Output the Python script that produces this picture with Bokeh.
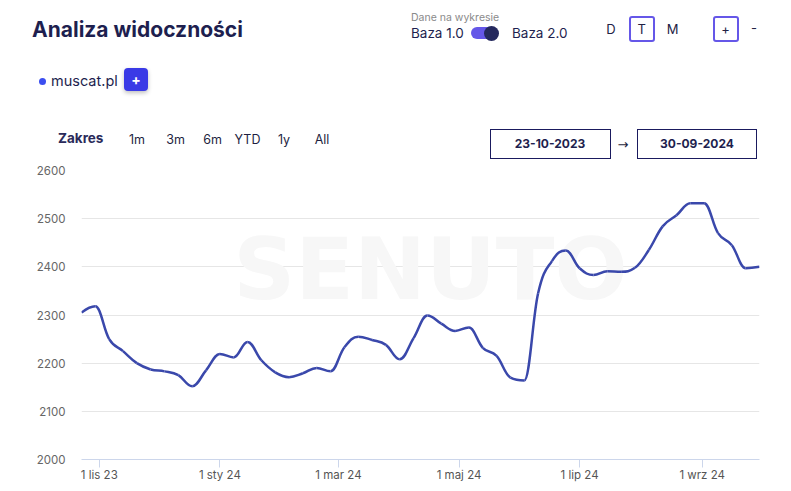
import numpy as np
import pandas as pd
from bokeh.plotting import figure
from bokeh.layouts import column
from bokeh.models import Label, FixedTicker, Range1d, Div
from bokeh.embed import file_html
from bokeh.resources import INLINE

# ---------------- data ----------------
title_text = "Analiza widoczności"
series_name = "muscat.pl"
week_dates = pd.date_range("2023-10-23", "2024-09-30", freq="7D")
visibility = [2305, 2318, 2250, 2225, 2200, 2187, 2183, 2175, 2152, 2185,
              2219, 2212, 2244, 2206, 2181, 2171, 2179, 2190, 2183, 2233,
              2255, 2248, 2238, 2208, 2252, 2299, 2282, 2267, 2274, 2232,
              2215, 2170, 2164, 2345, 2412, 2434, 2397, 2383, 2391, 2390,
              2398, 2435, 2484, 2507, 2532, 2532, 2470, 2445, 2397, 2400]
y_ticks = [2000, 2100, 2200, 2300, 2400, 2500, 2600]
x_tick_dates = ["2023-11-01", "2024-01-01", "2024-03-01", "2024-05-01", "2024-07-01", "2024-09-01"]
x_tick_labels = ["1 lis 23", "1 sty 24", "1 mar 24", "1 maj 24", "1 lip 24", "1 wrz 24"]
range_buttons = ["1m", "3m", "6m", "YTD", "1y", "All"]
interval_buttons = ["D", "T", "M"]
date_from = "23-10-2023"
date_to = "30-09-2024"

FONT = "Inter"
NAVY = "#1e1f4f"
LINE = "#3a48ab"
PURPLE = "#6557e8"

xs = (week_dates.astype("int64") // 10**6).astype(float).to_numpy()
ys = np.array(visibility, dtype=float)

# spline control points (rendering of a smooth line through the data points)
n = len(xs)
lx, ly, rx, ry = xs.copy(), ys.copy(), xs.copy(), ys.copy()
s, d = 1.5, 2.5
for i in range(1, n - 1):
    a_x = (s * xs[i] + xs[i - 1]) / d
    a_y = (s * ys[i] + ys[i - 1]) / d
    b_x = (s * xs[i] + xs[i + 1]) / d
    b_y = (s * ys[i] + ys[i + 1]) / d
    corr = ((b_y - a_y) * (b_x - xs[i])) / (b_x - a_x) + ys[i] - b_y
    a_y += corr
    b_y += corr
    if a_y > max(ys[i - 1], ys[i]):
        a_y = max(ys[i - 1], ys[i]); b_y = 2 * ys[i] - a_y
    elif a_y < min(ys[i - 1], ys[i]):
        a_y = min(ys[i - 1], ys[i]); b_y = 2 * ys[i] - a_y
    if b_y > max(ys[i + 1], ys[i]):
        b_y = max(ys[i + 1], ys[i]); a_y = 2 * ys[i] - b_y
    elif b_y < min(ys[i + 1], ys[i]):
        b_y = min(ys[i + 1], ys[i]); a_y = 2 * ys[i] - b_y
    lx[i], ly[i], rx[i], ry[i] = a_x, a_y, b_x, b_y

# ---------------- header (HTML) ----------------
HH = 160
parts = []


def txt(x, yc, text, size, color, weight=400, align="left", font=FONT):
    h = 24
    if align == "center":
        left, w, ta = x - 100, 200, "center"
    else:
        left, w, ta = x, 300, "left"
    parts.append(
        f'<div style="position:absolute;left:{left}px;top:{yc - h / 2}px;width:{w}px;height:{h}px;'
        f'line-height:{h}px;font-family:\'{font}\',sans-serif;font-size:{size}px;color:{color};'
        f'font-weight:{weight};text-align:{ta};white-space:nowrap;">{text}</div>')


def rect(l, r, t, b, fill="transparent", border=None, radius=0, extra=""):
    bd = f"border:{border};" if border else ""
    parts.append(
        f'<div style="position:absolute;left:{l}px;top:{t}px;width:{r - l}px;height:{b - t}px;'
        f'box-sizing:border-box;background:{fill};{bd}border-radius:{radius}px;{extra}"></div>')


txt(32, 29.5, title_text, 21, NAVY, weight=700)
txt(411, 18, "Dane na wykresie", 10.5, "#8a8a8a")
txt(411, 33, "Baza 1.0", 13.5, NAVY)
rect(471, 497, 27, 39, fill=PURPLE, radius=6)
rect(484, 499, 25.5, 40.5, fill="#25295e", radius=8)
txt(512, 33, "Baza 2.0", 13.5, NAVY)
rect(628.5, 655, 16, 42, border=f"2px solid {PURPLE}", radius=3)
rect(712.5, 738.5, 16, 42, border=f"2px solid {PURPLE}", radius=3)
for cx, t in zip([611, 641.8, 672.5], interval_buttons):
    txt(cx, 29, t, 13, "#222244", align="center")
txt(725.5, 29, "+", 13, "#222244", align="center")
txt(754, 28, "-", 13, "#222244", align="center")

rect(39.2, 46.2, 78, 85, fill="#3b4ef0", radius=4)
txt(51, 81, series_name, 14.5, NAVY)
rect(124, 148, 68, 91, fill="#3a3ae6", radius=4, extra="box-shadow:0 2px 4px rgba(0,0,0,0.25);")
txt(136, 79.5, "+", 14, "white", weight=700, align="center")

txt(58, 138, "Zakres", 13.5, "#2a2a5a", weight=700)
for bx, t in zip([137, 175.5, 212.5, 247.5, 284, 322], range_buttons):
    txt(bx, 140, t, 12.5, "#1e1f3f", align="center")

rect(490, 610.5, 128.5, 158.5, border="1.5px solid #1a1a5e")
txt(550, 143.5, date_from, 12, NAVY, weight=700, align="center")
txt(623, 145, "→", 13, "#1e1f3f", align="center", font="DejaVu Sans")
rect(636.5, 756.5, 128.5, 158.5, border="1.5px solid #1a1a5e")
txt(697, 143.5, date_to, 12, NAVY, weight=700, align="center")

header = Div(text=f'<div style="position:relative;width:791px;height:{HH}px;background:white;">'
                  + "".join(parts) + "</div>",
             width=791, height=HH, margin=0)

# ---------------- chart ----------------
p = figure(width=791, height=491 - HH, output_backend="svg", toolbar_location=None,
           x_range=Range1d(xs[0], xs[-1]), y_range=Range1d(2000, 2600),
           min_border_left=81, min_border_right=32, min_border_top=170 - HH, min_border_bottom=32,
           background_fill_color="white", border_fill_color="white", margin=0)
p.outline_line_color = None

# watermark
p.add_layout(Label(x=430, y=268 - HH, x_units="canvas", y_units="canvas", text="SENUTO",
                   text_font="DejaVu Sans", text_font_style="bold", text_font_size="86px",
                   text_color="#f7f7f7", text_align="center", text_baseline="middle",
                   level="underlay"))

p.bezier(x0=xs[:-1], y0=ys[:-1], x1=xs[1:], y1=ys[1:],
         cx0=rx[:-1], cy0=ry[:-1], cx1=lx[1:], cy1=ly[1:],
         line_color=LINE, line_width=2.5)

x_tick_ms = [float(pd.Timestamp(t).value // 10**6) for t in x_tick_dates]
p.xaxis.ticker = FixedTicker(ticks=x_tick_ms)
p.xaxis.major_label_overrides = {k: v for k, v in zip(x_tick_ms, x_tick_labels)}
p.xaxis.axis_line_color = "#ccd6eb"
p.xaxis.major_tick_line_color = "#ccd6eb"
p.xaxis.major_tick_out = 8
p.xaxis.major_tick_in = 0
p.xaxis.minor_tick_line_color = None
p.xaxis.major_label_standoff = 0
p.xaxis.major_label_text_font = FONT
p.xaxis.major_label_text_font_size = "11.5px"
p.xaxis.major_label_text_color = "#555555"

p.yaxis.ticker = FixedTicker(ticks=y_ticks)
p.yaxis.axis_line_color = None
p.yaxis.major_tick_line_color = None
p.yaxis.minor_tick_line_color = None
p.yaxis.major_tick_out = 0
p.yaxis.major_tick_in = 0
p.yaxis.major_label_standoff = 16
p.yaxis.major_label_text_font = FONT
p.yaxis.major_label_text_font_size = "11.5px"
p.yaxis.major_label_text_color = "#666666"

p.xgrid.grid_line_color = None
p.ygrid.grid_line_color = "#e6e6e6"
p.ygrid.ticker = FixedTicker(ticks=y_ticks)

layout = column(header, p, spacing=0, margin=0)
open("out.html", "w").write(file_html(layout, INLINE))
